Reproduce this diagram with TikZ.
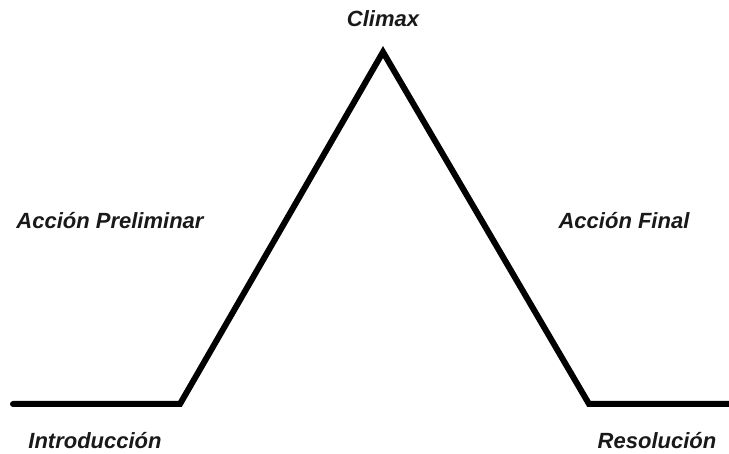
\documentclass[tikz,border=0pt]{standalone}
\usepackage{fontspec}
\setmainfont{Liberation Sans}
\begin{document}
\begin{tikzpicture}[x=1pt,y=-1pt,
  lbl/.style={font=\fontsize{22}{24}\selectfont\bfseries\itshape, inner sep=0pt, text=black!90},
  plot/.style={line width=6pt, line cap=round, line join=miter}]
\useasboundingbox (0,0) rectangle (729,454);
\coordinate (s) at (13,404);
\coordinate (a) at (180,404);
\coordinate (p) at (383,52);
\coordinate (b) at (589,404);
\coordinate (e) at (732,404);
\draw[plot] (s) -- (a) -- (p) -- (b) -- (e);
\node[lbl] (climax) at (383,19) {Climax};
\node[lbl] (pre) at (110,221) {Acción Preliminar};
\node[lbl] (fin) at (624,221) {Acción Final};
\node[lbl] (intro) at (95,441) {Introducción};
\node[lbl] (res) at (657,441) {Resolución};
\end{tikzpicture}
\end{document}
